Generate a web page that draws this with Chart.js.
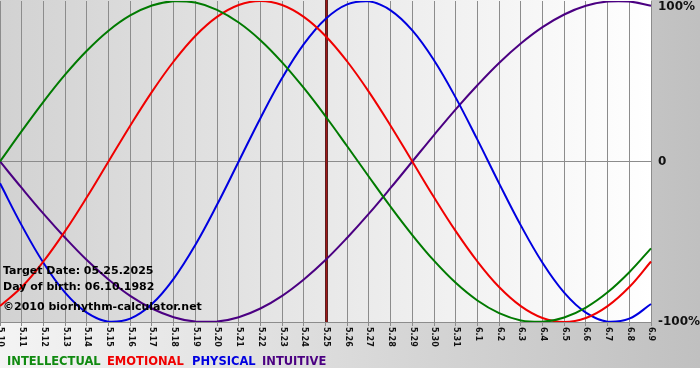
<!DOCTYPE html>
<html><head><meta charset="utf-8">
<script src="https://cdn.jsdelivr.net/npm/chart.js@4"></script>
<style>html,body{margin:0;padding:0;background:#fff;} canvas{display:block}</style>
</head><body>
<canvas id="c" width="700" height="380"></canvas>
<script>
const days = ['5.10','5.11','5.12','5.13','5.14','5.15','5.16','5.17','5.18','5.19','5.20','5.21','5.22','5.23','5.24','5.25','5.26','5.27','5.28','5.29','5.30','5.31','6.1','6.2','6.3','6.4','6.5','6.6','6.7','6.8','6.9'];
const intellectual = [0,0.189,0.372,0.541,0.690,0.815,0.910,0.972,0.999,0.990,0.945,0.866,0.756,0.618,0.458,0.282,0.095,-0.095,-0.282,-0.458,-0.618,-0.756,-0.866,-0.945,-0.990,-0.999,-0.972,-0.910,-0.815,-0.690,-0.541];
const emotional = [-0.901,-0.782,-0.623,-0.434,-0.223,0,0.223,0.434,0.623,0.782,0.901,0.975,1,0.975,0.901,0.782,0.623,0.434,0.223,0,-0.223,-0.434,-0.623,-0.782,-0.901,-0.975,-1,-0.975,-0.901,-0.782,-0.623];
const physical = [-0.136,-0.398,-0.631,-0.817,-0.942,-0.998,-0.979,-0.888,-0.731,-0.520,-0.270,0,0.270,0.520,0.731,0.888,0.979,0.998,0.942,0.817,0.631,0.398,0.136,-0.136,-0.398,-0.631,-0.817,-0.942,-0.998,-0.979,-0.888];
const intuitive = [0,-0.165,-0.325,-0.475,-0.614,-0.735,-0.837,-0.916,-0.970,-0.997,-0.997,-0.970,-0.916,-0.837,-0.735,-0.614,-0.475,-0.325,-0.165,0,0.165,0.325,0.475,0.614,0.735,0.837,0.916,0.970,0.997,0.997,0.970];
const yTickValues = [1, 0, -1];
const yTickLabels = ['100%', '0', '-100%'];
const targetDay = '5.25';
const infoLines = ['Target Date: 05.25.2025', 'Day of birth: 06.10.1982', '\u00A92010 biorhythm-calculator.net'];
const seriesNames = ['INTELLECTUAL', 'EMOTIONAL', 'PHYSICAL', 'INTUITIVE'];
const seriesColors = ['#007a00', '#f00000', '#0000e0', '#4b0082'];
const legendColors = ['#108a10', '#f00000', '#0000e0', '#4b0082'];

const GRID = '#8c8c8c';
const FONT = '"DejaVu Sans", Verdana, sans-serif';

const decor = {
  id: 'decor',
  beforeDraw(chart) {
    const ctx = chart.ctx, a = chart.chartArea;
    ctx.save();
    ctx.fillStyle = '#ffffff';
    ctx.fillRect(0, 0, chart.width, chart.height);
    let g = ctx.createLinearGradient(0, 0, chart.width, 0);
    g.addColorStop(0, '#f4f4f4');
    g.addColorStop(1, '#c0c0c0');
    ctx.fillStyle = g;
    ctx.fillRect(0, 0, chart.width, 368);
    g = ctx.createLinearGradient(a.left, 0, a.right, 0);
    g.addColorStop(0, '#d2d2d2');
    g.addColorStop(1, '#ffffff');
    ctx.fillStyle = g;
    ctx.fillRect(a.left, 0, a.right - a.left, a.bottom);
    ctx.restore();
  },
  beforeDatasetsDraw(chart) {
    const ctx = chart.ctx, a = chart.chartArea, x = chart.scales.x;
    const px = Math.round(x.getPixelForValue(days.indexOf(targetDay)));
    ctx.save();
    ctx.fillStyle = '#5a2020';
    ctx.fillRect(px - 1, 0, 3, a.bottom);
    ctx.fillStyle = '#a01818';
    ctx.fillRect(px, 0, 1, a.bottom);
    ctx.restore();
  },
  afterDraw(chart) {
    const ctx = chart.ctx, a = chart.chartArea, xs = chart.scales.x, ys = chart.scales.y;
    ctx.save();
    // x tick labels, rotated clockwise
    ctx.fillStyle = '#111';
    ctx.font = 'bold 8px ' + FONT;
    ctx.textAlign = 'left';
    ctx.textBaseline = 'middle';
    days.forEach((d, i) => {
      const px = xs.getPixelForValue(i);
      ctx.save();
      ctx.translate(px + 0.5, a.bottom + 5);
      ctx.rotate(Math.PI / 2);
      ctx.fillText(d, 0, 0);
      ctx.restore();
    });
    // right labels
    ctx.font = 'bold 12px ' + FONT;
    ctx.fillStyle = '#111';
    ctx.textBaseline = 'middle';
    const offs = [6, 0, 0];
    yTickValues.forEach((v, i) => {
      ctx.fillText(yTickLabels[i], a.right + 7, ys.getPixelForValue(v) + offs[i]);
    });
    // info text
    ctx.font = 'bold 11px ' + FONT;
    ctx.fillStyle = '#000';
    const iy = [271, 287, 307];
    infoLines.forEach((t, i) => ctx.fillText(t, 3, iy[i]));
    // legend
    ctx.font = 'bold 11.5px ' + FONT;
    const lxs = [7, 107, 192, 262];
    seriesNames.forEach((n, i) => {
      ctx.fillStyle = legendColors[i];
      ctx.fillText(n, lxs[i], 362);
    });
    ctx.restore();
  }
};

const mk = (label, data, color) => ({
  label, data, borderColor: color, backgroundColor: color, borderWidth: 2,
  pointRadius: 0, tension: 0.4, fill: false
});

new Chart(document.getElementById('c'), {
  type: 'line',
  data: {
    labels: days,
    datasets: [
      mk(seriesNames[0], intellectual, seriesColors[0]),
      mk(seriesNames[1], emotional, seriesColors[1]),
      mk(seriesNames[2], physical, seriesColors[2]),
      mk(seriesNames[3], intuitive, seriesColors[3])
    ]
  },
  options: {
    responsive: false,
    animation: false,
    devicePixelRatio: 1,
    layout: { padding: { left: 0, top: 1, right: 49, bottom: 54 } },
    plugins: { legend: { display: false }, tooltip: { enabled: false } },
    scales: {
      x: {
        offset: false,
        ticks: { display: false },
        grid: { color: GRID, tickLength: 4, drawTicks: true },
        border: { color: GRID }
      },
      y: {
        position: 'right', min: -1, max: 1,
        ticks: { display: false, stepSize: 1 },
        grid: { drawTicks: false, color: c => c.tick && c.tick.value === 0 ? GRID : 'rgba(0,0,0,0)' },
        border: { color: GRID }
      }
    }
  },
  plugins: [decor]
});
</script>
</body></html>
